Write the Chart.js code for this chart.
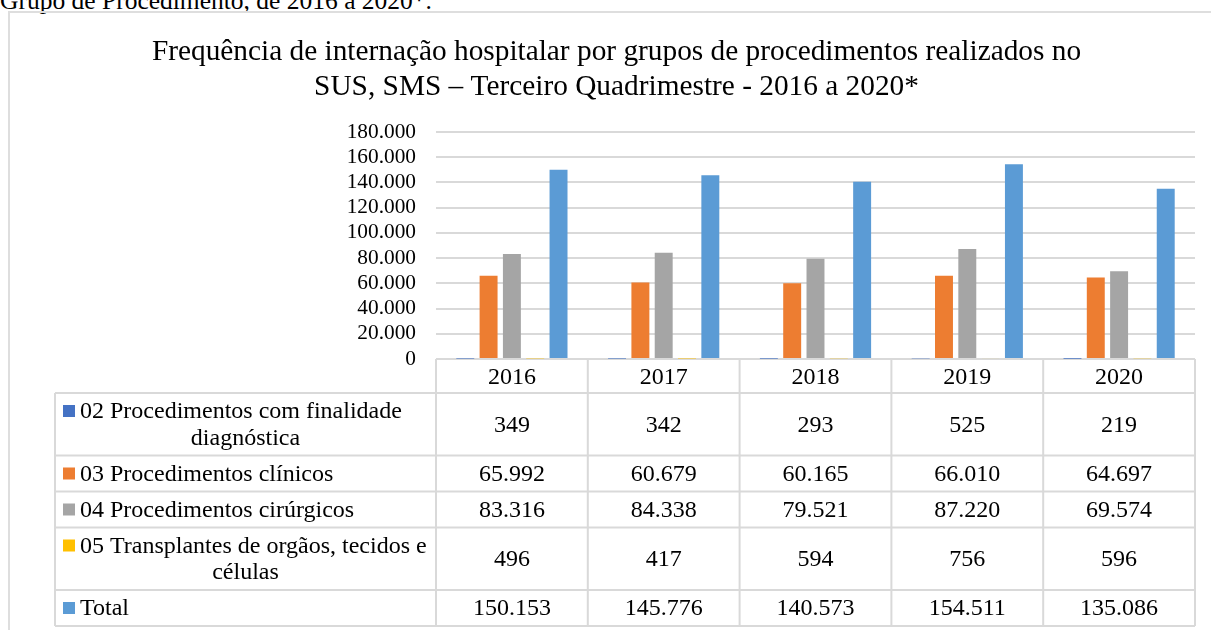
<!DOCTYPE html>
<html>
<head>
<meta charset="utf-8">
<script src="https://cdn.jsdelivr.net/npm/chart.js@4/dist/chart.umd.min.js"></script>
<style>
  html, body { margin: 0; padding: 0; background: #fff; overflow: hidden; }
  body { width: 1211px; height: 630px; position: relative; font-family: "Liberation Serif", "Times New Roman", serif; }
  #caption { position: absolute; left: 0; top: -14px; font-size: 25.5px; line-height: 30px; white-space: nowrap; color: #000; }
  #frame { position: absolute; left: 8px; top: 11px; width: 1220px; height: 640px; border: 2px solid #dedede; box-sizing: border-box; }
  #wrap { position: absolute; left: 10px; top: 13px; width: 1199px; height: 617px; }
</style>
</head>
<body>
<div id="caption">Grupo de Procedimento, de 2016 a 2020*.</div>
<div id="frame"></div>
<div id="wrap"><canvas id="c"></canvas></div>
<script>
const years = ['2016', '2017', '2018', '2019', '2020'];
const titleLines = [
  'Frequência de internação hospitalar por grupos de procedimentos realizados no',
  'SUS, SMS – Terceiro Quadrimestre - 2016 a 2020*'
];
const yTicks = [0, 20000, 40000, 60000, 80000, 100000, 120000, 140000, 160000, 180000];

const seriesNames = [
  ['02 Procedimentos com finalidade', 'diagnóstica'],
  ['03 Procedimentos clínicos'],
  ['04 Procedimentos cirúrgicos'],
  ['05 Transplantes de orgãos, tecidos e', 'células'],
  ['Total']
];
const diagnostica = [349, 342, 293, 525, 219];
const clinicos = [65992, 60679, 60165, 66010, 64697];
const cirurgicos = [83316, 84338, 79521, 87220, 69574];
const transplantes = [496, 417, 594, 756, 596];
const total = [150153, 145776, 140573, 154511, 135086];
const seriesColors = ['#4472C4', '#ED7D31', '#A5A5A5', '#FFC000', '#5B9BD5'];

const FONT = '"Liberation Serif", "Times New Roman", serif';
const fmt = v => String(v).replace(/\B(?=(\d{3})+(?!\d))/g, '.');

const seriesData = [diagnostica, clinicos, cirurgicos, transplantes, total];

const tablePlugin = {
  id: 'dataTable',
  afterDraw(chart) {
    const ctx = chart.ctx;
    const area = chart.chartArea;
    const xs = chart.scales.x;
    const n = years.length;
    const half = (xs.getPixelForValue(1) - xs.getPixelForValue(0)) / 2;
    const colEdges = [];
    for (let i = 0; i < n; i++) colEdges.push(xs.getPixelForValue(i) - half);
    colEdges.push(xs.getPixelForValue(n - 1) + half);
    const tableLeft = 45;
    const headerH = 34;
    const lineH = 26.5;
    const rowPad = 9.5;
    const top = area.bottom;
    ctx.save();
    ctx.strokeStyle = '#d9d9d9';
    ctx.lineWidth = 2;
    ctx.fillStyle = '#000';
    ctx.font = '24px ' + FONT;
    ctx.textBaseline = 'middle';
    // header row
    const hBottom = top + headerH;
    ctx.beginPath();
    colEdges.forEach(x => { ctx.moveTo(x, top); ctx.lineTo(x, hBottom); });
    ctx.stroke();
    ctx.textAlign = 'center';
    years.forEach((y, i) => ctx.fillText(y, xs.getPixelForValue(i), top + headerH / 2 + 2));
    // data rows
    let y0 = hBottom;
    const rowTops = [y0];
    seriesNames.forEach((lines, r) => {
      const h = lines.length * lineH + rowPad;
      const cy = y0 + h / 2;
      const firstY = cy - (lines.length - 1) * lineH / 2;
      ctx.fillStyle = seriesColors[r];
      ctx.fillRect(tableLeft + 8, firstY - 6, 12, 12);
      ctx.fillStyle = '#000';
      lines.forEach((t, k) => {
        if (k === 0) {
          ctx.textAlign = 'left';
          ctx.fillText(t, tableLeft + 25, firstY + 1);
        } else {
          ctx.textAlign = 'center';
          ctx.fillText(t, (tableLeft + colEdges[0]) / 2, firstY + k * lineH + 1);
        }
      });
      ctx.textAlign = 'center';
      seriesData[r].forEach((v, i) => ctx.fillText(fmt(v), xs.getPixelForValue(i), cy + 1));
      y0 += h;
      rowTops.push(y0);
    });
    ctx.beginPath();
    rowTops.forEach(y => { ctx.moveTo(tableLeft, y); ctx.lineTo(colEdges[n], y); });
    [tableLeft].concat(colEdges).forEach(x => { ctx.moveTo(x, hBottom); ctx.lineTo(x, y0); });
    ctx.stroke();
    ctx.restore();
  }
};

new Chart(document.getElementById('c'), {
  type: 'bar',
  data: {
    labels: years,
    datasets: seriesNames.map((nm, i) => ({
      label: nm.join(' '),
      data: seriesData[i],
      backgroundColor: seriesColors[i],
      borderWidth: 0,
      categoryPercentage: 0.768,
      barPercentage: 0.77
    }))
  },
  options: {
    responsive: true,
    maintainAspectRatio: false,
    animation: false,
    layout: { padding: { left: 28, right: 14, top: 0, bottom: 271 } },
    plugins: {
      legend: { display: false },
      tooltip: { enabled: false },
      title: {
        display: true,
        text: titleLines,
        color: '#000',
        font: { family: FONT, size: 29.33, weight: 'normal', lineHeight: 1.19 },
        padding: { top: 21.5, bottom: 27.7 }
      }
    },
    scales: {
      x: { display: false },
      y: {
        min: 0,
        max: 180000,
        afterFit: s => { s.width = 398; },
        afterBuildTicks: s => { s.ticks = yTicks.map(v => ({ value: v })); },
        border: { display: false },
        grid: { color: '#d9d9d9', lineWidth: 2, drawTicks: false },
        ticks: {
          autoSkip: false,
          padding: 20,
          color: '#000',
          font: { family: FONT, size: 21.33 },
          callback: v => fmt(v)
        }
      }
    }
  },
  plugins: [tablePlugin]
});
</script>
</body>
</html>
